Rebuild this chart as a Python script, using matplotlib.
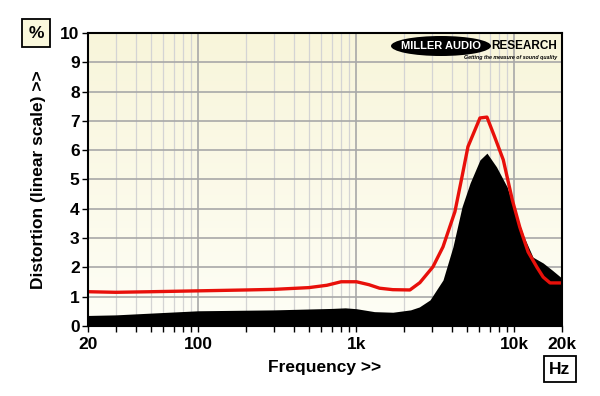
import numpy as np
import matplotlib.pyplot as plt
from matplotlib.patches import Ellipse

# THD vs frequency
freq_red = [20, 30, 50, 100, 200, 300, 500, 650, 800, 1000, 1200, 1400, 1700, 2180,
            2520, 3050, 3530, 4200, 4660, 5080, 6050, 6700, 7500, 8500, 9700, 10800,
            12200, 13900, 15200, 16800, 20000]
thd_red = [1.17, 1.15, 1.17, 1.2, 1.23, 1.25, 1.31, 1.39, 1.51, 1.51, 1.41, 1.29, 1.24, 1.23,
           1.48, 2.02, 2.7, 3.9, 5.1, 6.12, 7.1, 7.13, 6.45, 5.67, 4.3, 3.38,
           2.53, 2.0, 1.67, 1.47, 1.47]

freq_blk = [20, 30, 50, 100, 300, 700, 850, 1000, 1300, 1700, 2200, 2500, 2920, 3530,
            4080, 4660, 5240, 6050, 6700, 7700, 9000, 10000, 11500, 13100, 15200, 17400, 20000]
thd_blk = [0.36, 0.38, 0.44, 0.52, 0.55, 0.6, 0.62, 0.59, 0.49, 0.47, 0.55, 0.65, 0.89, 1.57,
           2.7, 4.07, 4.88, 5.67, 5.9, 5.43, 4.74, 3.96, 3.04, 2.35, 2.15, 1.9, 1.63]

xticks = [20, 100, 1000, 10000, 20000]
xtick_labels = ['20', '100', '1k', '10k', '20k']

font = ['Liberation Sans Narrow', 'Liberation Sans', 'DejaVu Sans']
plt.rcParams['font.family'] = font
plt.rcParams['font.weight'] = 'bold'

fig = plt.figure(figsize=(6, 3.96), dpi=100)
ax = fig.add_axes([88 / 600, 70 / 396, 474 / 600, 293 / 396])

# cream gradient background
grad = np.linspace(0, 1, 256).reshape(-1, 1)
top = np.array([248, 245, 218]) / 255
bot = np.array([254, 254, 246]) / 255
img = top * (1 - grad[..., None]) + bot * grad[..., None]
ax.imshow(img, extent=[0, 1, 0, 1], transform=ax.transAxes, aspect='auto', zorder=0)

ax.set_xscale('log')
ax.set_xlim(20, 20000)
ax.set_ylim(0, 10)

# grid
for f in [100, 1000, 10000]:
    ax.axvline(f, color='#a8a8a8', lw=1.2, zorder=1)
minor = [f * m for f in [10, 100, 1000, 10000] for m in range(2, 10) if 20 < f * m < 20000]
for f in minor:
    ax.axvline(f, color='#d4d4d4', lw=0.9, zorder=1)
for v in range(1, 10):
    ax.axhline(v, color='#a8a8a8', lw=1.2, zorder=1)

ax.fill_between(freq_blk, 0, thd_blk, color='black', lw=0, zorder=2)
ax.plot(freq_red, thd_red, color='#e8100a', lw=2.4, zorder=3)

ax.set_xticks(xticks)
ax.set_xticklabels(xtick_labels)
ax.set_xticks(minor, minor=True)
ax.set_xticklabels([], minor=True)
ax.set_yticks(range(0, 11))
ax.tick_params(axis='both', which='both', length=4, width=1, color='black')
ax.tick_params(axis='x', which='major', labelsize=12.5, pad=4)
ax.tick_params(axis='y', labelsize=12.5, pad=2)
for s in ax.spines.values():
    s.set_linewidth(1.5)
    s.set_zorder(5)

ax.set_xlabel('Frequency >>', fontsize=12.5, fontweight='bold', labelpad=6)
ax.set_ylabel('Distortion (linear scale) >>', fontsize=12.5, fontweight='bold', labelpad=10)

# unit boxes
fig.text(36 / 600, 1 - 33 / 396, '%', fontsize=12.5, fontweight='bold', ha='center', va='center',
         bbox=dict(boxstyle='square,pad=0.35', fc='#faf8dc', ec='black', lw=1.3))
fig.text(560 / 600, 1 - 369 / 396, 'Hz', fontsize=12.5, fontweight='bold', ha='center', va='center',
         bbox=dict(boxstyle='square,pad=0.3', fc='white', ec='black', lw=1.3))

# logo
ell = Ellipse((441 / 600, 1 - 46 / 396), 100 / 600, 20 / 396, transform=fig.transFigure,
              fc='black', ec='none', zorder=6)
fig.patches.append(ell)
fig.text(441 / 600, 1 - 46 / 396, 'MILLER AUDIO', color='white', fontsize=8, fontweight='heavy',
         ha='center', va='center', zorder=7)
fig.text(491 / 600, 1 - 46 / 396, 'RESEARCH', color='black', fontsize=8.5, fontweight='heavy',
         ha='left', va='center', zorder=7)
fig.text(557 / 600, 1 - 57 / 396, 'Getting the measure of sound quality', color='black', fontsize=3.8,
         fontweight='bold', style='italic', ha='right', va='center', zorder=7)

plt.savefig('out.png', dpi=100)
